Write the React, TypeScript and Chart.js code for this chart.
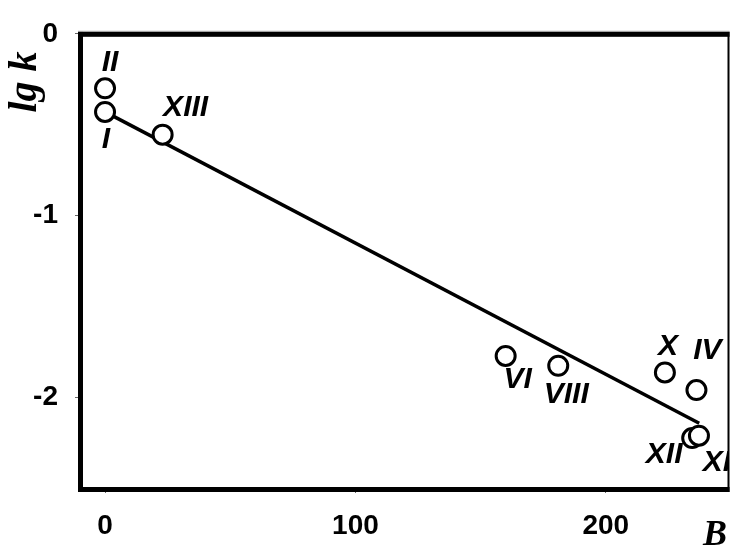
import React, { useEffect, useRef } from "react";
import { Chart, registerables } from "chart.js";

Chart.register(...registerables);

// ---- data ----
const compoundLabels = ["I", "II", "XIII", "VI", "VIII", "X", "IV", "XII", "XI"];
const bValues = [0, 0, 23, 160, 181, 223.6, 236.2, 234.5, 237.2];
const lgkValues = [-0.43, -0.3, -0.555, -1.773, -1.827, -1.864, -1.961, -2.225, -2.212];
const fitB = [0, 237.3];
const fitLgk = [-0.43, -2.144];
const xTickValues = [0, 100, 200];
const yTickValues = [0, -1, -2];
const xTitle = "B";
const yTitle = "lg k";

// label offsets (pixels, relative to the marker)
const labelDx = [1, 5, 23, 12, 8, 3, 11, -28, 18];
const labelDy = [28, -26, -27, 24, 29, -26, -39, 17, 27];

const tickFont = { family: "'Liberation Sans', Arial, sans-serif", size: 28, weight: "bold" as const };

const decorPlugin = {
  id: "decor",
  afterDatasetsDraw(chart: any) {
    const { ctx, chartArea } = chart;
    const { left, right, top, bottom } = chartArea;
    const meta = chart.getDatasetMeta(0);
    ctx.save();
    // point labels, clipped to the plot box
    ctx.beginPath();
    ctx.rect(left, top, right - left, bottom - top);
    ctx.clip();
    ctx.fillStyle = "#000";
    ctx.font = "italic bold 30px 'Liberation Sans', Arial, sans-serif";
    ctx.textAlign = "center";
    ctx.textBaseline = "middle";
    meta.data.forEach((el: any, i: number) => {
      ctx.fillText(compoundLabels[i], el.x + labelDx[i], el.y + labelDy[i]);
    });
    ctx.restore();

    ctx.save();
    ctx.fillStyle = "#000";
    // plot box border: heavy top/left/bottom, thin right
    ctx.fillRect(left - 2, top - 2, right - left + 3, 5);
    ctx.fillRect(left - 2, top - 2, 5, bottom - top + 6);
    ctx.fillRect(left - 2, bottom - 1, right - left + 3, 5);
    ctx.fillRect(right - 1, top - 2, 2, bottom - top + 6);
    ctx.fillStyle = "#999";
    ctx.fillRect(left - 2, top - 3, right - left + 3, 1);

    // axis titles
    ctx.fillStyle = "#000";
    ctx.textAlign = "center";
    ctx.textBaseline = "middle";
    ctx.font = "italic bold 36px 'Liberation Serif', 'Times New Roman', serif";
    ctx.fillText(xTitle, 715, 536);
    ctx.font = "italic bold 40px 'Liberation Serif', 'Times New Roman', serif";
    ctx.translate(26, 82);
    ctx.rotate(-Math.PI / 2);
    ctx.fillText(yTitle, 0, 0);
    ctx.restore();
  },
};

export default function App() {
  const canvasRef = useRef<HTMLCanvasElement | null>(null);

  useEffect(() => {
    const canvas = canvasRef.current;
    if (!canvas) return;
    const pts = bValues.map((b, i) => ({ x: b, y: lgkValues[i] }));
    const fit = fitB.map((b, i) => ({ x: b, y: fitLgk[i] }));
    const chart = new Chart(canvas, {
      type: "scatter",
      data: {
        datasets: [
          {
            label: "compounds",
            data: pts,
            pointRadius: 9.5,
            pointBorderWidth: 3,
            pointBackgroundColor: "#fff",
            pointBorderColor: "#000",
            showLine: false,
            order: 0,
          },
          {
            label: "fit",
            data: fit,
            showLine: true,
            borderColor: "#000",
            borderWidth: 3.5,
            pointRadius: 0,
            order: 1,
          },
        ],
      },
      options: {
        animation: false,
        responsive: false,
        devicePixelRatio: 1,
        layout: { padding: { top: 24, right: 2, left: 0, bottom: 0 } },
        plugins: { legend: { display: false }, tooltip: { enabled: false } },
        scales: {
          x: {
            type: "linear",
            min: -10,
            max: 249,
            border: { display: false },
            grid: { drawOnChartArea: false, tickLength: 5, color: "#666", lineWidth: 1 },
            ticks: { color: "#000", font: tickFont, padding: 16, maxRotation: 0 },
            afterBuildTicks: (scale: any) => {
              scale.ticks = xTickValues.map((v) => ({ value: v }));
            },
            afterFit: (scale: any) => {
              scale.height = 59;
            },
          },
          y: {
            type: "linear",
            min: -2.5,
            max: 0,
            border: { display: false },
            grid: { drawOnChartArea: false, tickLength: 5, color: "#666", lineWidth: 1 },
            ticks: { color: "#000", font: tickFont, padding: 17 },
            afterBuildTicks: (scale: any) => {
              scale.ticks = yTickValues.map((v) => ({ value: v }));
            },
            afterFit: (scale: any) => {
              scale.width = 80;
            },
          },
        },
      },
      plugins: [decorPlugin],
    });
    return () => chart.destroy();
  }, []);

  return (
    <div style={{ position: "fixed", left: 0, top: 0, width: 741, height: 547, background: "#fff" }}>
      <canvas ref={canvasRef} width={741} height={547} style={{ width: 741, height: 547, display: "block" }} />
    </div>
  );
}
